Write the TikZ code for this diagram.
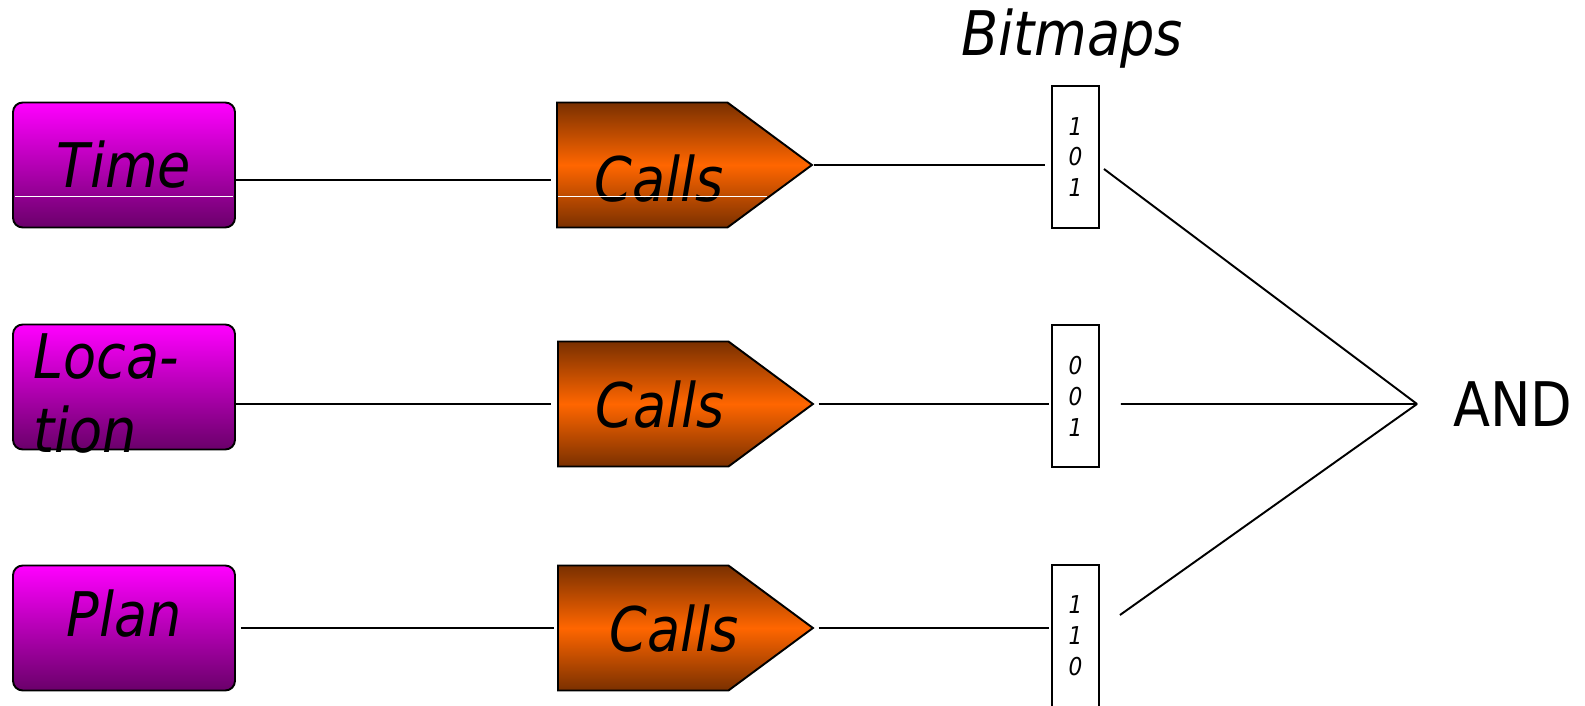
\documentclass[tikz,border=0pt]{standalone}
\usepackage{fontspec}
\setmainfont{DejaVu Sans}[FakeStretch=0.88]
\usetikzlibrary{shapes.symbols}
\definecolor{boxTop}{HTML}{FF00FF}
\definecolor{boxBottom}{HTML}{6A006A}
\definecolor{callsEdge}{HTML}{7A3000}
\definecolor{callsMid}{HTML}{FF6600}
% texto desplazado dentro de la flecha
\newcommand{\callsText}[2]{\makebox[0pt]{\hspace*{#1}\raisebox{#2}{Calls}}}
\begin{document}
\begin{tikzpicture}[x=0.02cm, y=-0.02cm,
  dim/.style={draw=black, line width=1.1pt, rounded corners=5.5pt,
    top color=boxTop, bottom color=boxBottom, minimum width=4.44cm,
    minimum height=2.5cm, inner sep=0pt, text height=0.9cm, text depth=0cm,
    font=\fontsize{35}{42}\selectfont\itshape},
  calls/.style={signal, signal to=east, signal pointer angle=73, draw=black,
    line width=1.1pt, top color=callsEdge, bottom color=callsEdge, middle color=callsMid,
    minimum width=5.1cm, minimum height=2.5cm, inner sep=0pt, anchor=west,
    text height=0.9cm, text depth=0.25cm, font=\fontsize{35}{42}\selectfont\itshape},
  bitmap/.style={draw=black, line width=1.1pt, fill=white, minimum width=0.94cm,
    minimum height=2.84cm, inner sep=0pt, align=center,
    font=\fontsize{14}{17.6}\selectfont\itshape},
  link/.style={line width=1.1pt},
]
  \clip (0,0) rectangle (1585,706);

  % Dimensiones
  \node[dim] (time) at (124,165) {Time};
  \node[dim] (loc)  at (124,387) {};
  \node[dim] (plan) at (124,628) {\raisebox{0.28cm}{Plan}};
  \node[font=\fontsize{35}{42}\selectfont\itshape, anchor=base west, align=left, inner sep=0pt]
    (loctxt) at (33,452) {Loca-\\tion};

  % Tabla de hechos
  \node[calls] (calls1) at (556,165) {\callsText{0.68cm}{-0.4cm}};
  \node[calls] (calls2) at (557,404) {\callsText{0.68cm}{-0.14cm}};
  \node[calls] (calls3) at (557,628) {\callsText{1.24cm}{-0.14cm}};

  % Linea blanca de la primera fila
  \draw[white, line width=0.5pt] (15,196) -- (233,196);
  \draw[white, line width=0.5pt] (558,196) -- (767,196);

  % Bitmaps
  \node[font=\fontsize{35}{42}\selectfont\itshape] (bmlbl) at (1072,39) {Bitmaps};
  \node[bitmap] (bm1) at (1075.5,157) {1\\0\\1};
  \node[bitmap] (bm2) at (1075.5,396) {0\\0\\1};
  \node[bitmap] (bm3) at (1075.5,636) {1\\1\\0};

  \coordinate (join) at (1417,404);
  \node[font=\fontsize{35}{42}\selectfont] (and) at (1513,404) {AND};

  % Conexiones
  \draw[link, shorten >=0.1cm] ([yshift=-0.3cm]time.east) -- ([yshift=-0.3cm]calls1.west);
  \draw[link, shorten >=0.12cm] (loc.east |- calls2.west) -- (calls2.west);
  \draw[link, shorten <=0.1cm, shorten >=0.06cm] (plan.east) -- (calls3.west);

  \draw[link, shorten >=0.12cm] (calls1.east) -- (bm1.west |- calls1.east);
  \draw[link, shorten <=0.08cm, shorten >=0.04cm] (calls2.east) -- (bm2.west |- calls2.east);
  \draw[link, shorten <=0.08cm, shorten >=0.04cm] (calls3.east) -- (bm3.west |- calls3.east);

  \draw[link] ([xshift=0.08cm, yshift=-0.24cm]bm1.east) -- (join);
  \draw[link] ([xshift=0.42cm, yshift=-0.16cm]bm2.east) -- (join);
  \draw[link] ([xshift=0.4cm, yshift=0.42cm]bm3.east) -- (join);
\end{tikzpicture}
\end{document}
